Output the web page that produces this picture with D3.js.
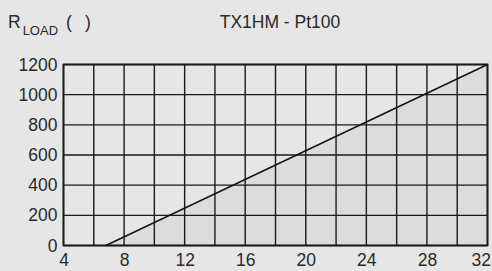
<!DOCTYPE html>
<html><head><meta charset="utf-8">
<script src="https://cdn.jsdelivr.net/npm/d3@7"></script>
<style>body{margin:0;background:#e6e6e6;}svg{display:block;font-family:"Liberation Sans",Arial,sans-serif;}</style>
</head><body>
<script>
const xTicks = [4, 8, 12, 16, 20, 24, 28, 32];
const yTicks = [0, 200, 400, 600, 800, 1000, 1200];
const lineX = [6.8, 32];
const lineY = [0, 1200];
const title = "TX1HM - Pt100";

const W = 492, H = 271;
const FS = 17.5;
const svg = d3.select("body").append("svg").attr("width", W).attr("height", H);
svg.append("rect").attr("width", W).attr("height", H).attr("fill", "#e6e6e6");
const x = d3.scaleLinear().domain([4, 32]).range([63.5, 487.5]);
const y = d3.scaleLinear().domain([0, 1200]).range([245.5, 64.5]);

// shaded area
const pts = lineX.map((v, i) => [v, lineY[i]]);
svg.append("path")
  .attr("d", d3.area().x(d => x(d[0])).y0(y(0)).y1(d => y(d[1]))(pts))
  .attr("fill", "#dcdcdc");

// grid
const gx = d3.range(4, 33, 2);
const gy = d3.range(0, 1201, 200);
svg.append("g").selectAll("line").data(gx).join("line")
  .attr("x1", d => x(d)).attr("x2", d => x(d)).attr("y1", y(0)).attr("y2", y(1200))
  .attr("stroke", "#1a1a1a").attr("stroke-width", 1.4);
svg.append("g").selectAll("line").data(gy).join("line")
  .attr("y1", d => y(d)).attr("y2", d => y(d)).attr("x1", x(4)).attr("x2", x(32))
  .attr("stroke", "#1a1a1a").attr("stroke-width", 1.4);
svg.append("rect").attr("x", x(4)).attr("y", y(1200)).attr("width", x(32) - x(4)).attr("height", y(0) - y(1200))
  .attr("fill", "none").attr("stroke", "#1a1a1a").attr("stroke-width", 1.8);

// line
svg.append("path").attr("d", d3.line().x(d => x(d[0])).y(d => y(d[1]))(pts))
  .attr("stroke", "#111").attr("stroke-width", 1.4).attr("fill", "none");

// axes labels
const xa = d3.axisBottom(x).tickValues(xTicks).tickFormat(d3.format("d")).tickSize(0).tickPadding(8);
const gxa = svg.append("g").attr("transform", `translate(0,${y(0)})`).call(xa);
gxa.select(".domain").remove();
gxa.selectAll("text").attr("font-size", FS).attr("fill", "#2a2a2a").attr("font-family", "Liberation Sans, Arial, sans-serif");
gxa.selectAll(".tick").filter(d => d === 32).select("text").attr("text-anchor", "end").attr("x", 3);
const ya = d3.axisLeft(y).tickValues(yTicks).tickFormat(d3.format("d")).tickSize(0).tickPadding(6);
const gya = svg.append("g").attr("transform", `translate(${x(4)},0)`).call(ya);
gya.select(".domain").remove();
gya.selectAll("text").attr("font-size", FS).attr("fill", "#2a2a2a").attr("font-family", "Liberation Sans, Arial, sans-serif");

// titles
const t = svg.append("text").attr("x", 8).attr("y", 28).attr("font-size", FS).attr("fill", "#2a2a2a");
t.append("tspan").text("R");
t.append("tspan").attr("font-size", 13).attr("dy", 7).attr("dx", 2).text("LOAD");
svg.append("text").attr("x", 66).attr("y", 28).attr("font-size", FS).attr("fill", "#2a2a2a").text("(");
svg.append("text").attr("x", 85).attr("y", 28).attr("font-size", FS).attr("fill", "#2a2a2a").text(")");
svg.append("text").attr("x", 280).attr("y", 28).attr("text-anchor", "middle").attr("font-size", FS).attr("fill", "#2a2a2a").text(title);
</script>
</body></html>
